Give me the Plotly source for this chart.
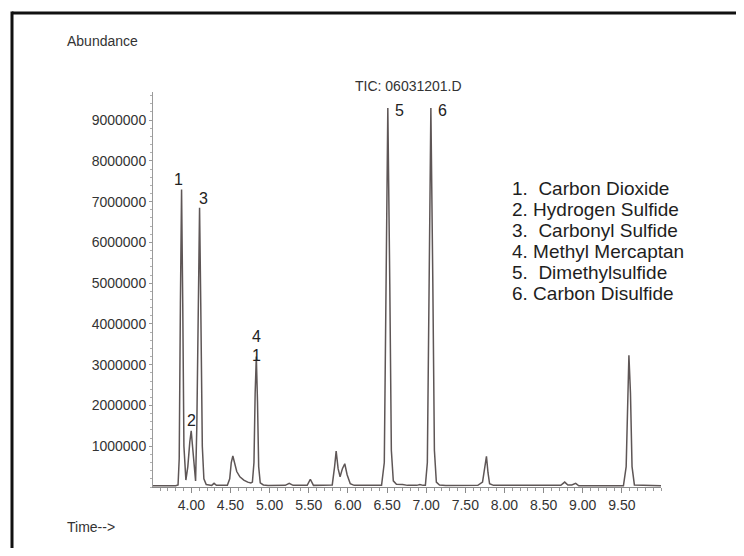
import plotly.graph_objects as go

# Retention time (min) and abundance
time_min = [
    3.51, 3.80, 3.83, 3.845, 3.86, 3.875, 3.89, 3.905, 3.93,
    3.955, 3.98, 3.998, 4.015, 4.04, 4.054,
    4.07, 4.09, 4.105, 4.12, 4.14, 4.16, 4.19,
    4.26, 4.29, 4.32,
    4.46, 4.49, 4.51, 4.53, 4.55, 4.58, 4.62, 4.67, 4.72, 4.76, 4.78,
    4.80, 4.815, 4.83, 4.845, 4.86, 4.88, 4.92, 4.98,
    5.20, 5.25, 5.30,
    5.48, 5.52, 5.56,
    5.80, 5.83, 5.85, 5.875, 5.90, 5.93, 5.96, 5.99, 6.03, 6.08,
    6.43, 6.465, 6.485, 6.51, 6.535, 6.555, 6.58, 6.62, 6.70, 6.76,
    6.88, 6.92, 6.96,
    6.99, 7.015, 7.035, 7.06, 7.085, 7.105, 7.13, 7.17, 7.25,
    7.66, 7.72, 7.745, 7.77, 7.79, 7.81, 7.86,
    8.50, 8.72, 8.77, 8.81, 8.86, 8.91, 8.95,
    9.52, 9.555, 9.575, 9.59, 9.61, 9.63, 9.66, 10.0,
]
abundance = [
    30000, 30000, 50000, 700000, 4500000, 7300000, 4500000, 1000000, 170000,
    500000, 1100000, 1380000, 1000000, 300000, 150000,
    1500000, 5000000, 6850000, 4500000, 1000000, 200000, 60000,
    40000, 90000, 40000,
    40000, 200000, 600000, 760000, 620000, 380000, 250000, 170000, 120000, 100000, 120000,
    600000, 2300000, 3200000, 2100000, 500000, 100000, 50000, 35000,
    40000, 90000, 40000,
    40000, 190000, 40000,
    50000, 500000, 880000, 450000, 250000, 450000, 570000, 300000, 80000, 40000,
    40000, 600000, 4200000, 9300000, 5000000, 900000, 150000, 70000, 60000, 40000,
    40000, 60000, 40000,
    40000, 600000, 4500000, 9300000, 5000000, 900000, 120000, 50000, 35000,
    40000, 120000, 400000, 750000, 350000, 80000, 40000,
    30000, 40000, 120000, 50000, 50000, 90000, 30000,
    30000, 500000, 2500000, 3230000, 2300000, 500000, 50000, 30000,
]

x_tick_vals = [4.0, 4.5, 5.0, 5.5, 6.0, 6.5, 7.0, 7.5, 8.0, 8.5, 9.0, 9.5]
x_tick_text = ["4.00", "4.50", "5.00", "5.50", "6.00", "6.50", "7.00",
               "7.50", "8.00", "8.50", "9.00", "9.50"]
y_tick_vals = [1000000, 2000000, 3000000, 4000000, 5000000,
               6000000, 7000000, 8000000, 9000000]
y_tick_text = [str(v) for v in y_tick_vals]

peak_labels = ["1", "2", "3", "4", "1", "5", "6"]
peak_label_x = [3.84, 4.0, 4.155, 4.826, 4.835, 6.655, 7.21]
peak_label_y = [7550000, 1620000, 7080000, 3700000, 3230000, 9230000, 9230000]

compounds = [
    "1.  Carbon Dioxide",
    "2. Hydrogen Sulfide",
    "3.  Carbonyl Sulfide",
    "4. Methyl Mercaptan",
    "5.  Dimethylsulfide",
    "6. Carbon Disulfide",
]

OFF = 8  # page body margin
W, H = 736, 540
L, T = 145, 84
PW, PH = 508, 395
R, B = W - L - PW, H - T - PH


def px(xs):
    return (xs - OFF - L) / PW


def py(ys):
    return (T + PH - (ys - OFF)) / PH


FONT = "Liberation Sans, Arial, sans-serif"

fig = go.Figure()
fig.add_trace(go.Scatter(
    x=time_min, y=abundance, mode="lines",
    line=dict(color="#5e5656", width=1.5),
    hoverinfo="skip", showlegend=False,
))

annotations = []
for t, xv, yv in zip(peak_labels, peak_label_x, peak_label_y):
    annotations.append(dict(x=xv, y=yv, xref="x", yref="y", text=t,
                            showarrow=False, font=dict(size=16, color="#222", family=FONT)))

for i, c in enumerate(compounds):
    annotations.append(dict(x=px(510), y=py(188 + i * 21), xref="paper", yref="paper",
                            text=c, showarrow=False, xanchor="left", yanchor="middle",
                            font=dict(size=19, color="#1e1e1e", family=FONT)))

annotations += [
    dict(x=px(65), y=py(41), xref="paper", yref="paper", text="Abundance",
         showarrow=False, xanchor="left", yanchor="middle",
         font=dict(size=14, color="#333", family=FONT)),
    dict(x=px(65), y=py(527), xref="paper", yref="paper", text="Time-->",
         showarrow=False, xanchor="left", yanchor="middle",
         font=dict(size=14, color="#333", family=FONT)),
    dict(x=px(408), y=py(86), xref="paper", yref="paper", text="TIC: 06031201.D",
         showarrow=False, xanchor="center", yanchor="middle",
         font=dict(size=14, color="#333", family=FONT)),
]

frame = dict(color="#111", width=3)
fig.update_layout(
    width=W, height=H, autosize=False,
    margin=dict(l=L, r=R, t=T, b=B, pad=0),
    paper_bgcolor="white", plot_bgcolor="white",
    annotations=annotations,
    shapes=[
        dict(type="line", xref="paper", yref="paper",
             x0=px(12), x1=px(760), y0=py(13), y1=py(13), line=frame, layer="below"),
        dict(type="line", xref="paper", yref="paper",
             x0=px(12), x1=px(12), y0=py(11.5), y1=py(600), line=frame, layer="below"),
    ],
    xaxis=dict(range=[3.51, 10.0], tickvals=x_tick_vals, ticktext=x_tick_text,
               showgrid=False, zeroline=False, showline=True, linecolor="#8a8a8a",
               linewidth=1, ticks="outside", ticklen=5, tickcolor="#8a8a8a",
               minor=dict(dtick=0.1, tick0=3.5, ticks="outside", ticklen=3,
                          tickcolor="#9a9a9a", showgrid=False),
               tickfont=dict(size=14, color="#333", family=FONT)),
    yaxis=dict(range=[0, 9690000], tickvals=y_tick_vals, ticktext=y_tick_text,
               showgrid=False, zeroline=False, showline=True, linecolor="#9a9a9a",
               linewidth=1, ticks="outside", ticklen=3, tickcolor="#9a9a9a",
               minor=dict(dtick=200000, ticks="outside", ticklen=2,
                          tickcolor="#b0b0b0", showgrid=False),
               tickfont=dict(size=14, color="#333", family=FONT)),
)

fig.write_html("out.html")
